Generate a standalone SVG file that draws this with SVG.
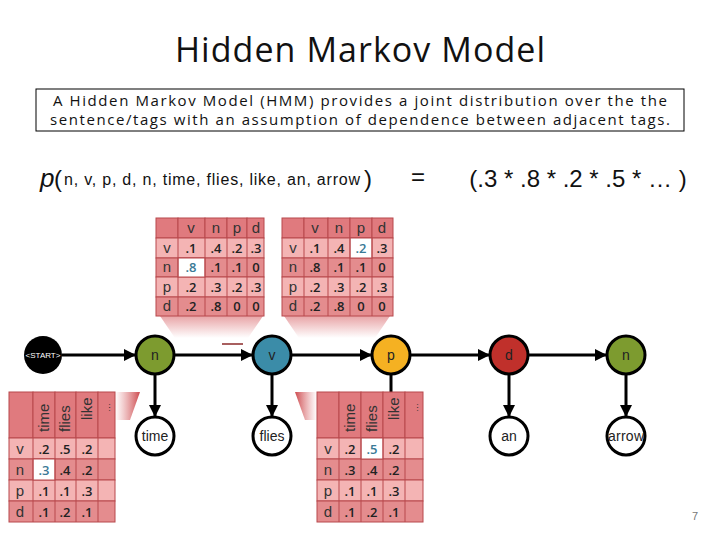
<svg xmlns="http://www.w3.org/2000/svg" width="720" height="540" viewBox="0 0 720 540">
<defs>
<marker id="ah2" markerWidth="12" markerHeight="12" refX="11" refY="6" orient="auto" markerUnits="userSpaceOnUse" viewBox="0 0 12 12"><path d="M0,0 L12,6 L0,12 z" fill="#000"/></marker>
<linearGradient id="glow" x1="0" y1="0" x2="0" y2="1"><stop offset="0" stop-color="#d9676b" stop-opacity="0.6"/><stop offset="1" stop-color="#d9676b" stop-opacity="0"/></linearGradient>
<linearGradient id="glowL" x1="1" y1="0" x2="0" y2="0"><stop offset="0" stop-color="#c8383c" stop-opacity="0.9"/><stop offset="1" stop-color="#d9676b" stop-opacity="0"/></linearGradient>
<linearGradient id="glowR" x1="0" y1="0" x2="1" y2="0"><stop offset="0" stop-color="#c8383c" stop-opacity="0.9"/><stop offset="1" stop-color="#d9676b" stop-opacity="0"/></linearGradient>
</defs>
<style>
text{font-family:"Liberation Sans",Arial,sans-serif}
.cal{font-family:"Open Sans","Noto Sans",sans-serif}
.c1{fill:#f4b4b4;stroke:#b8484c;stroke-width:1}
.c2{fill:#e48c8e;stroke:#b8484c;stroke-width:1}
.ch{fill:#e07a7e;stroke:#b8484c;stroke-width:1}
.hi{fill:#fff;stroke:#b8484c;stroke-width:1}
.tl{font-size:15px;fill:#333;text-anchor:middle}
.tv{font-size:13px;font-weight:600;fill:#222;text-anchor:middle;font-family:"Open Sans","Noto Sans",sans-serif}
.tb{fill:#3a7a96}
.node{stroke:#000;stroke-width:3}
.nl{font-size:14px;text-anchor:middle;fill:#222}
.edge{stroke:#000;stroke-width:3;fill:none}
</style>
<text x="360" y="62" font-size="34" text-anchor="middle" class="cal" fill="#111" textLength="370">Hidden Markov Model</text>
<rect x="36" y="89" width="648" height="42" fill="#fff" stroke="#000" stroke-width="1"/>
<text x="360" y="106" font-size="15" text-anchor="middle" class="cal" fill="#111" textLength="614">A Hidden Markov Model (HMM) provides a joint distribution over the the</text>
<text x="360" y="125" font-size="15" text-anchor="middle" class="cal" fill="#111" textLength="620">sentence/tags with an assumption of dependence between adjacent tags.</text>
<text x="40" y="187" font-size="26" font-style="italic" font-family="Liberation Serif,serif" fill="#111">p</text>
<text x="54" y="187" font-size="24" font-family="Liberation Serif,serif" fill="#111">(</text>
<text x="64" y="185" font-size="16" fill="#111" textLength="296">n, v, p, d, n, time, flies, like, an, arrow</text>
<text x="364" y="187" font-size="24" font-family="Liberation Serif,serif" fill="#111">)</text>
<text x="418" y="185" font-size="24" text-anchor="middle" font-family="Liberation Serif,serif" fill="#111">=</text>
<text x="578" y="187" font-size="24" text-anchor="middle" font-family="Liberation Serif,serif" fill="#111">(.3 * .8 * .2 * .5 * … )</text>

<polygon points="160,316 263,316 248,338 175,338" fill="url(#glow)"/>
<polygon points="284,316 390,316 375,338 299,338" fill="url(#glow)"/>
<polygon points="115,392 140,392 130,420 115,420" fill="url(#glowL)"/>
<polygon points="317,392 295,392 305,420 317,420" fill="url(#glowR)"/>
<line x1="222" y1="344" x2="243" y2="344" stroke="#8b2a2a" stroke-width="1.5"/>

<g id="trans1">
<rect class="ch" x="156" y="218" width="22" height="20"/><rect class="ch" x="178" y="218" width="27" height="20"/><rect class="ch" x="205" y="218" width="22" height="20"/><rect class="ch" x="227" y="218" width="20" height="20"/><rect class="ch" x="247" y="218" width="17" height="20"/>
<text x="191" y="233" class="tl">v</text><text x="216" y="233" class="tl">n</text><text x="237" y="233" class="tl">p</text><text x="256" y="233" class="tl">d</text>
<rect class="c1" x="156" y="238" width="108" height="20"/><rect class="c2" x="156" y="258" width="108" height="19"/><rect class="c1" x="156" y="277" width="108" height="20"/><rect class="c2" x="156" y="297" width="108" height="19"/>
<rect class="hi" x="178" y="258" width="27" height="19"/>
<g stroke="#b8484c"><line x1="178" y1="238" x2="178" y2="316"/><line x1="205" y1="238" x2="205" y2="316"/><line x1="227" y1="238" x2="227" y2="316"/><line x1="247" y1="238" x2="247" y2="316"/></g>
<text x="167" y="253" class="tl">v</text><text x="167" y="272" class="tl">n</text><text x="167" y="292" class="tl">p</text><text x="167" y="311" class="tl">d</text>
<text x="191" y="253" class="tv">.1</text><text x="216" y="253" class="tv">.4</text><text x="237" y="253" class="tv">.2</text><text x="256" y="253" class="tv">.3</text>
<text x="191" y="272" class="tv tb">.8</text><text x="216" y="272" class="tv">.1</text><text x="237" y="272" class="tv">.1</text><text x="256" y="272" class="tv">0</text>
<text x="191" y="292" class="tv">.2</text><text x="216" y="292" class="tv">.3</text><text x="237" y="292" class="tv">.2</text><text x="256" y="292" class="tv">.3</text>
<text x="191" y="311" class="tv">.2</text><text x="216" y="311" class="tv">.8</text><text x="237" y="311" class="tv">0</text><text x="256" y="311" class="tv">0</text>
</g>

<g id="trans2">
<rect class="ch" x="282" y="218" width="22" height="20"/><rect class="ch" x="304" y="218" width="24" height="20"/><rect class="ch" x="328" y="218" width="22" height="20"/><rect class="ch" x="350" y="218" width="22" height="20"/><rect class="ch" x="372" y="218" width="21" height="20"/>
<text x="315" y="233" class="tl">v</text><text x="339" y="233" class="tl">n</text><text x="361" y="233" class="tl">p</text><text x="382" y="233" class="tl">d</text>
<rect class="c1" x="282" y="238" width="111" height="20"/><rect class="c2" x="282" y="258" width="111" height="19"/><rect class="c1" x="282" y="277" width="111" height="20"/><rect class="c2" x="282" y="297" width="111" height="19"/>
<rect class="hi" x="350" y="238" width="22" height="20"/>
<g stroke="#b8484c"><line x1="304" y1="238" x2="304" y2="316"/><line x1="328" y1="238" x2="328" y2="316"/><line x1="350" y1="238" x2="350" y2="316"/><line x1="372" y1="238" x2="372" y2="316"/></g>
<text x="293" y="253" class="tl">v</text><text x="293" y="272" class="tl">n</text><text x="293" y="292" class="tl">p</text><text x="293" y="311" class="tl">d</text>
<text x="315" y="253" class="tv">.1</text><text x="339" y="253" class="tv">.4</text><text x="361" y="253" class="tv tb">.2</text><text x="382" y="253" class="tv">.3</text>
<text x="315" y="272" class="tv">.8</text><text x="339" y="272" class="tv">.1</text><text x="361" y="272" class="tv">.1</text><text x="382" y="272" class="tv">0</text>
<text x="315" y="292" class="tv">.2</text><text x="339" y="292" class="tv">.3</text><text x="361" y="292" class="tv">.2</text><text x="382" y="292" class="tv">.3</text>
<text x="315" y="311" class="tv">.2</text><text x="339" y="311" class="tv">.8</text><text x="361" y="311" class="tv">0</text><text x="382" y="311" class="tv">0</text>
</g>

<g id="edges">
<line class="edge" x1="62" y1="355" x2="135" y2="355" marker-end="url(#ah2)"/>
<line class="edge" x1="175" y1="355" x2="252" y2="355" marker-end="url(#ah2)"/>
<line class="edge" x1="292" y1="355" x2="371" y2="355" marker-end="url(#ah2)"/>
<line class="edge" x1="411" y1="355" x2="489" y2="355" marker-end="url(#ah2)"/>
<line class="edge" x1="529" y1="355" x2="606" y2="355" marker-end="url(#ah2)"/>
<line class="edge" x1="155" y1="375" x2="155" y2="416" marker-end="url(#ah2)"/>
<line class="edge" x1="272" y1="375" x2="272" y2="416" marker-end="url(#ah2)"/>
<line class="edge" x1="391" y1="375" x2="391" y2="392"/>
<line class="edge" x1="509" y1="375" x2="509" y2="416" marker-end="url(#ah2)"/>
<line class="edge" x1="626" y1="375" x2="626" y2="416" marker-end="url(#ah2)"/>
</g>

<g id="start"><circle cx="43" cy="355" r="19" fill="#000"/><text x="43" y="358" font-size="8" fill="#fff" text-anchor="middle">&lt;START&gt;</text></g>
<g id="t1"><circle class="node" cx="155" cy="355" r="19" fill="#7d9b2f"/><text class="nl" x="155" y="360">n</text></g>
<g id="t2"><circle class="node" cx="272" cy="355" r="19" fill="#3b8ca8"/><text class="nl" x="272" y="360">v</text></g>
<g id="t3"><circle class="node" cx="391" cy="355" r="19" fill="#f5b122"/><text class="nl" x="391" y="360">p</text></g>
<g id="t4"><circle class="node" cx="509" cy="355" r="19" fill="#c0302b"/><text class="nl" x="509" y="360">d</text></g>
<g id="t5"><circle class="node" cx="626" cy="355" r="19" fill="#7d9b2f"/><text class="nl" x="626" y="360">n</text></g>
<g id="w1"><circle class="node" cx="155" cy="436" r="19" fill="#fff"/><text class="nl" x="155" y="441">time</text></g>
<g id="w2"><circle class="node" cx="272" cy="436" r="19" fill="#fff"/><text class="nl" x="272" y="441">flies</text></g>
<g id="w4"><circle class="node" cx="509" cy="436" r="19" fill="#fff"/><text class="nl" x="509" y="441">an</text></g>
<g id="w5"><circle class="node" cx="626" cy="436" r="19" fill="#fff"/><text class="nl" x="626" y="441" textLength="36">arrow</text></g>

<g id="emit1">
<rect class="ch" x="9" y="392" width="24" height="46"/><rect class="ch" x="33" y="392" width="22" height="46"/><rect class="ch" x="55" y="392" width="21" height="46"/><rect class="ch" x="76" y="392" width="22" height="46"/><rect class="ch" x="98" y="392" width="17" height="46"/>
<text transform="translate(49,432) rotate(-90)" font-size="15" fill="#333">time</text>
<text transform="translate(70,432) rotate(-90)" font-size="15" fill="#333">flies</text>
<text transform="translate(92,420) rotate(-90)" font-size="15" fill="#333">like</text>
<text transform="translate(110,412) rotate(-90)" font-size="9" fill="#333">…</text>
<rect class="c1" x="9" y="438" width="106" height="21"/><rect class="c2" x="9" y="459" width="106" height="21"/><rect class="c1" x="9" y="480" width="106" height="21"/><rect class="c2" x="9" y="501" width="106" height="21"/>
<rect class="hi" x="33" y="459" width="22" height="21"/>
<g stroke="#b8484c"><line x1="33" y1="438" x2="33" y2="522"/><line x1="55" y1="438" x2="55" y2="522"/><line x1="76" y1="438" x2="76" y2="522"/><line x1="98" y1="438" x2="98" y2="522"/></g>
<text x="20" y="454" class="tl">v</text><text x="20" y="475" class="tl">n</text><text x="20" y="496" class="tl">p</text><text x="20" y="517" class="tl">d</text>
<text x="44" y="454" class="tv">.2</text><text x="65" y="454" class="tv">.5</text><text x="87" y="454" class="tv">.2</text>
<text x="44" y="475" class="tv tb">.3</text><text x="65" y="475" class="tv">.4</text><text x="87" y="475" class="tv">.2</text>
<text x="44" y="496" class="tv">.1</text><text x="65" y="496" class="tv">.1</text><text x="87" y="496" class="tv">.3</text>
<text x="44" y="517" class="tv">.1</text><text x="65" y="517" class="tv">.2</text><text x="87" y="517" class="tv">.1</text>
</g>

<g id="emit2">
<rect class="ch" x="317" y="392" width="22" height="46"/><rect class="ch" x="339" y="392" width="22" height="46"/><rect class="ch" x="361" y="392" width="22" height="46"/><rect class="ch" x="383" y="392" width="22" height="46"/><rect class="ch" x="405" y="392" width="18" height="46"/>
<text transform="translate(355,432) rotate(-90)" font-size="15" fill="#333">time</text>
<text transform="translate(377,432) rotate(-90)" font-size="15" fill="#333">flies</text>
<text transform="translate(399,420) rotate(-90)" font-size="15" fill="#333">like</text>
<text transform="translate(418,412) rotate(-90)" font-size="9" fill="#333">…</text>
<rect class="c1" x="317" y="438" width="106" height="21"/><rect class="c2" x="317" y="459" width="106" height="21"/><rect class="c1" x="317" y="480" width="106" height="21"/><rect class="c2" x="317" y="501" width="106" height="21"/>
<rect class="hi" x="361" y="438" width="22" height="21"/>
<g stroke="#b8484c"><line x1="339" y1="438" x2="339" y2="522"/><line x1="361" y1="438" x2="361" y2="522"/><line x1="383" y1="438" x2="383" y2="522"/><line x1="405" y1="438" x2="405" y2="522"/></g>
<text x="328" y="454" class="tl">v</text><text x="328" y="475" class="tl">n</text><text x="328" y="496" class="tl">p</text><text x="328" y="517" class="tl">d</text>
<text x="350" y="454" class="tv">.2</text><text x="372" y="454" class="tv tb">.5</text><text x="394" y="454" class="tv">.2</text>
<text x="350" y="475" class="tv">.3</text><text x="372" y="475" class="tv">.4</text><text x="394" y="475" class="tv">.2</text>
<text x="350" y="496" class="tv">.1</text><text x="372" y="496" class="tv">.1</text><text x="394" y="496" class="tv">.3</text>
<text x="350" y="517" class="tv">.1</text><text x="372" y="517" class="tv">.2</text><text x="394" y="517" class="tv">.1</text>
</g>
<text x="695" y="520" font-size="11" fill="#777" text-anchor="middle">7</text>
</svg>
